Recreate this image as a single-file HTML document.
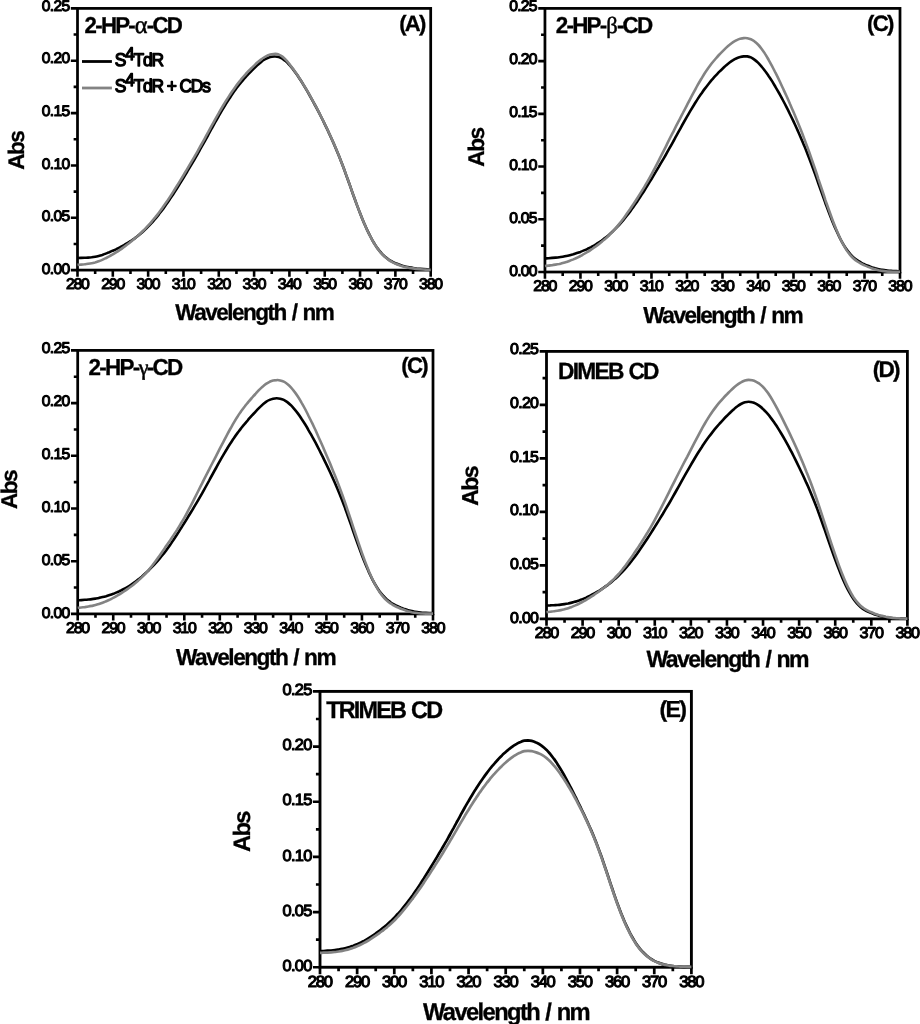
<!DOCTYPE html>
<html lang="en">
<head>
<meta charset="utf-8">
<title>UV absorption spectra of S4TdR with cyclodextrins</title>
<style>
html,body{margin:0;padding:0;background:#fff;}
body{width:920px;height:1024px;overflow:hidden;}
svg{display:block;}
text{font-family:"Liberation Sans",Arial,Helvetica,sans-serif;fill:#000;text-rendering:geometricPrecision;}
.b{font-weight:bold;word-spacing:1.3px;stroke:#000;stroke-width:0.3px;}
.tk text,.lg{font-weight:normal;stroke:#000;stroke-linejoin:round;}
.lg{stroke-width:1.25px;}
.gk{font-family:"Liberation Serif","DejaVu Serif",serif;font-weight:normal;font-style:normal;stroke:#000;stroke-width:0.5px;}
</style>
</head>
<body>
<svg width="920" height="1024" viewBox="0 0 920 1024">
<rect width="920" height="1024" fill="#fff"/>
<g id="pA">
<rect x="77.5" y="8.4" width="353.2" height="261.7" fill="none" stroke="#000" stroke-width="2.74"/>
<path d="M77.5 270.1H70.83M77.5 243.93H73.62M77.5 217.76H70.83M77.5 191.59H73.62M77.5 165.42H70.83M77.5 139.25H73.62M77.5 113.08H70.83M77.5 86.91H73.62M77.5 60.74H70.83M77.5 34.57H73.62M77.5 8.4H70.83M77.5 270.1V276.77M95.16 270.1V273.98M112.82 270.1V276.77M130.48 270.1V273.98M148.14 270.1V276.77M165.8 270.1V273.98M183.46 270.1V276.77M201.12 270.1V273.98M218.78 270.1V276.77M236.44 270.1V273.98M254.1 270.1V276.77M271.76 270.1V273.98M289.42 270.1V276.77M307.08 270.1V273.98M324.74 270.1V276.77M342.4 270.1V273.98M360.06 270.1V276.77M377.72 270.1V273.98M395.38 270.1V276.77M413.04 270.1V273.98M430.7 270.1V276.77" fill="none" stroke="#000" stroke-width="2.59"/>
<path d="M77.5 258.0C78.1 257.9 79.9 257.9 81.0 257.9C82.2 257.9 83.4 257.9 84.6 257.8C85.7 257.8 86.9 257.7 88.1 257.6C89.3 257.5 90.5 257.4 91.6 257.3C92.8 257.1 94.0 256.9 95.2 256.7C96.3 256.5 97.5 256.2 98.7 255.9C99.9 255.6 101.0 255.2 102.2 254.9C103.4 254.5 104.6 254.1 105.8 253.6C106.9 253.2 108.1 252.7 109.3 252.3C110.5 251.8 111.6 251.3 112.8 250.7C114.0 250.2 115.2 249.7 116.4 249.1C117.5 248.5 118.7 248.0 119.9 247.4C121.1 246.8 122.2 246.1 123.4 245.5C124.6 244.8 125.8 244.1 126.9 243.4C128.1 242.7 129.3 242.0 130.5 241.2C131.7 240.4 132.8 239.6 134.0 238.8C135.2 237.9 136.4 237.1 137.5 236.1C138.7 235.2 139.9 234.3 141.1 233.3C142.3 232.2 143.4 231.2 144.6 230.1C145.8 229.0 147.0 227.9 148.1 226.7C149.3 225.5 150.5 224.2 151.7 222.9C152.8 221.6 154.0 220.3 155.2 218.9C156.4 217.5 157.6 216.0 158.7 214.6C159.9 213.1 161.1 211.5 162.3 210.0C163.4 208.4 164.6 206.8 165.8 205.1C167.0 203.4 168.2 201.7 169.3 200.0C170.5 198.2 171.7 196.5 172.9 194.7C174.0 192.9 175.2 191.0 176.4 189.2C177.6 187.3 178.8 185.4 179.9 183.5C181.1 181.6 182.3 179.7 183.5 177.8C184.6 175.8 185.8 173.9 187.0 172.0C188.2 170.0 189.3 168.0 190.5 166.1C191.7 164.1 192.9 162.1 194.1 160.1C195.2 158.0 196.4 156.0 197.6 154.0C198.8 151.9 199.9 149.8 201.1 147.7C202.3 145.6 203.5 143.5 204.7 141.4C205.8 139.2 207.0 137.1 208.2 135.0C209.4 132.8 210.5 130.7 211.7 128.5C212.9 126.4 214.1 124.3 215.2 122.2C216.4 120.0 217.6 118.0 218.8 115.9C220.0 113.9 221.1 111.8 222.3 109.8C223.5 107.9 224.7 105.9 225.8 104.0C227.0 102.1 228.2 100.3 229.4 98.5C230.6 96.7 231.7 94.9 232.9 93.2C234.1 91.5 235.3 89.9 236.4 88.3C237.6 86.7 238.8 85.2 240.0 83.7C241.1 82.2 242.3 80.8 243.5 79.5C244.7 78.1 245.9 76.8 247.0 75.5C248.2 74.2 249.4 73.0 250.6 71.8C251.7 70.6 252.9 69.4 254.1 68.3C255.3 67.1 256.5 66.0 257.6 64.9C258.8 63.9 260.0 62.9 261.2 61.9C262.3 61.0 263.5 60.2 264.7 59.5C265.9 58.8 267.1 58.2 268.2 57.7C269.4 57.3 270.6 56.9 271.8 56.7C272.9 56.5 274.1 56.4 275.3 56.5C276.5 56.5 277.6 56.7 278.8 57.0C280.0 57.4 281.2 57.9 282.4 58.6C283.5 59.4 284.7 60.3 285.9 61.3C287.1 62.4 288.2 63.6 289.4 64.9C290.6 66.2 291.8 67.7 293.0 69.2C294.1 70.7 295.3 72.3 296.5 74.0C297.7 75.7 298.8 77.5 300.0 79.3C301.2 81.1 302.4 83.0 303.5 84.9C304.7 86.9 305.9 88.9 307.1 90.9C308.3 92.9 309.4 95.0 310.6 97.1C311.8 99.2 313.0 101.3 314.1 103.5C315.3 105.6 316.5 107.8 317.7 110.1C318.9 112.3 320.0 114.6 321.2 117.0C322.4 119.3 323.6 121.7 324.7 124.1C325.9 126.5 327.1 128.9 328.3 131.5C329.4 134.0 330.6 136.5 331.8 139.2C333.0 141.8 334.2 144.5 335.3 147.2C336.5 150.0 337.7 152.8 338.9 155.8C340.0 158.7 341.2 161.7 342.4 164.8C343.6 167.9 344.8 171.1 345.9 174.3C347.1 177.6 348.3 180.9 349.5 184.2C350.6 187.5 351.8 190.9 353.0 194.2C354.2 197.4 355.4 200.7 356.5 203.9C357.7 207.1 358.9 210.3 360.1 213.3C361.2 216.3 362.4 219.2 363.6 222.0C364.8 224.7 365.9 227.4 367.1 229.9C368.3 232.4 369.5 234.8 370.7 237.0C371.8 239.3 373.0 241.4 374.2 243.3C375.4 245.2 376.5 247.0 377.7 248.6C378.9 250.3 380.1 251.7 381.3 253.0C382.4 254.3 383.6 255.4 384.8 256.5C386.0 257.5 387.1 258.4 388.3 259.3C389.5 260.1 390.7 260.8 391.8 261.4C393.0 262.1 394.2 262.7 395.4 263.2C396.6 263.7 397.7 264.2 398.9 264.6C400.1 265.0 401.3 265.4 402.4 265.8C403.6 266.1 404.8 266.4 406.0 266.7C407.2 267.0 408.3 267.2 409.5 267.4C410.7 267.6 411.9 267.8 413.0 268.0C414.2 268.2 415.4 268.3 416.6 268.5C417.7 268.6 418.9 268.7 420.1 268.8C421.3 268.9 422.5 269.0 423.6 269.1C424.8 269.2 426.0 269.3 427.2 269.4C428.3 269.4 430.1 269.5 430.7 269.6" fill="none" stroke="#000" stroke-width="2.59" stroke-linejoin="round"/>
<path d="M77.5 264.9C78.1 264.8 79.9 264.7 81.0 264.6C82.2 264.5 83.4 264.4 84.6 264.3C85.7 264.1 86.9 264.0 88.1 263.8C89.3 263.6 90.5 263.4 91.6 263.2C92.8 263.0 94.0 262.7 95.2 262.4C96.3 262.0 97.5 261.7 98.7 261.2C99.9 260.8 101.0 260.4 102.2 259.9C103.4 259.4 104.6 258.8 105.8 258.2C106.9 257.7 108.1 257.0 109.3 256.4C110.5 255.8 111.6 255.1 112.8 254.4C114.0 253.7 115.2 253.0 116.4 252.2C117.5 251.5 118.7 250.7 119.9 249.9C121.1 249.1 122.2 248.3 123.4 247.4C124.6 246.6 125.8 245.7 126.9 244.8C128.1 243.9 129.3 243.0 130.5 242.0C131.7 241.1 132.8 240.1 134.0 239.1C135.2 238.1 136.4 237.1 137.5 236.1C138.7 235.0 139.9 233.9 141.1 232.8C142.3 231.7 143.4 230.5 144.6 229.3C145.8 228.1 147.0 226.9 148.1 225.6C149.3 224.3 150.5 223.0 151.7 221.6C152.8 220.3 154.0 218.8 155.2 217.4C156.4 215.9 157.6 214.4 158.7 212.9C159.9 211.3 161.1 209.7 162.3 208.1C163.4 206.5 164.6 204.8 165.8 203.1C167.0 201.4 168.2 199.6 169.3 197.9C170.5 196.1 171.7 194.3 172.9 192.4C174.0 190.6 175.2 188.7 176.4 186.8C177.6 184.9 178.8 183.0 179.9 181.1C181.1 179.2 182.3 177.2 183.5 175.3C184.6 173.3 185.8 171.4 187.0 169.4C188.2 167.4 189.3 165.4 190.5 163.4C191.7 161.4 192.9 159.4 194.1 157.4C195.2 155.4 196.4 153.3 197.6 151.3C198.8 149.2 199.9 147.1 201.1 145.0C202.3 142.9 203.5 140.8 204.7 138.6C205.8 136.5 207.0 134.3 208.2 132.2C209.4 130.0 210.5 127.9 211.7 125.7C212.9 123.6 214.1 121.4 215.2 119.3C216.4 117.2 217.6 115.1 218.8 113.1C220.0 111.0 221.1 109.0 222.3 107.0C223.5 105.0 224.7 103.1 225.8 101.2C227.0 99.3 228.2 97.4 229.4 95.6C230.6 93.8 231.7 92.1 232.9 90.4C234.1 88.7 235.3 87.0 236.4 85.4C237.6 83.9 238.8 82.3 240.0 80.9C241.1 79.4 242.3 78.0 243.5 76.7C244.7 75.3 245.9 74.0 247.0 72.7C248.2 71.4 249.4 70.2 250.6 69.0C251.7 67.8 252.9 66.7 254.1 65.6C255.3 64.4 256.5 63.3 257.6 62.3C258.8 61.3 260.0 60.3 261.2 59.4C262.3 58.5 263.5 57.7 264.7 57.0C265.9 56.3 267.1 55.7 268.2 55.2C269.4 54.8 270.6 54.4 271.8 54.2C272.9 54.0 274.1 53.9 275.3 53.9C276.5 54.0 277.6 54.2 278.8 54.6C280.0 55.1 281.2 55.7 282.4 56.6C283.5 57.4 284.7 58.6 285.9 59.9C287.1 61.1 288.2 62.6 289.4 64.1C290.6 65.6 291.8 67.2 293.0 68.8C294.1 70.4 295.3 72.1 296.5 73.8C297.7 75.5 298.8 77.3 300.0 79.1C301.2 81.0 302.4 82.8 303.5 84.8C304.7 86.7 305.9 88.7 307.1 90.7C308.3 92.7 309.4 94.7 310.6 96.8C311.8 98.9 313.0 101.1 314.1 103.3C315.3 105.4 316.5 107.7 317.7 109.9C318.9 112.2 320.0 114.5 321.2 116.8C322.4 119.2 323.6 121.5 324.7 124.0C325.9 126.4 327.1 128.8 328.3 131.4C329.4 133.9 330.6 136.4 331.8 139.1C333.0 141.7 334.2 144.4 335.3 147.1C336.5 149.9 337.7 152.7 338.9 155.7C340.0 158.6 341.2 161.6 342.4 164.7C343.6 167.8 344.8 171.0 345.9 174.2C347.1 177.5 348.3 180.8 349.5 184.1C350.6 187.4 351.8 190.8 353.0 194.1C354.2 197.4 355.4 200.7 356.5 203.9C357.7 207.1 358.9 210.2 360.1 213.3C361.2 216.3 362.4 219.2 363.6 222.0C364.8 224.8 365.9 227.4 367.1 230.0C368.3 232.5 369.5 234.9 370.7 237.2C371.8 239.4 373.0 241.5 374.2 243.5C375.4 245.4 376.5 247.2 377.7 248.8C378.9 250.5 380.1 251.9 381.3 253.3C382.4 254.6 383.6 255.7 384.8 256.8C386.0 257.9 387.1 258.8 388.3 259.6C389.5 260.5 390.7 261.2 391.8 261.8C393.0 262.5 394.2 263.1 395.4 263.6C396.6 264.1 397.7 264.6 398.9 265.0C400.1 265.5 401.3 265.9 402.4 266.2C403.6 266.6 404.8 266.9 406.0 267.1C407.2 267.4 408.3 267.6 409.5 267.9C410.7 268.1 411.9 268.3 413.0 268.4C414.2 268.6 415.4 268.7 416.6 268.9C417.7 269.0 418.9 269.1 420.1 269.2C421.3 269.3 422.5 269.4 423.6 269.5C424.8 269.6 426.0 269.6 427.2 269.7C428.3 269.8 430.1 269.9 430.7 269.9" fill="none" stroke="#838383" stroke-width="2.59" stroke-linejoin="round"/>
<g class="tk" stroke-width="1.09">
<text transform="translate(70.14 274.08) scale(1 0.98)" font-size="15.62" letter-spacing="-0.7" text-anchor="end" x="-0.7">0.00</text>
<text transform="translate(70.14 221.38) scale(1 0.98)" font-size="15.62" letter-spacing="-0.7" text-anchor="end" x="-0.7">0.05</text>
<text transform="translate(70.14 168.68) scale(1 0.98)" font-size="15.62" letter-spacing="-0.7" text-anchor="end" x="-0.7">0.10</text>
<text transform="translate(70.14 115.99) scale(1 0.98)" font-size="15.62" letter-spacing="-0.7" text-anchor="end" x="-0.7">0.15</text>
<text transform="translate(70.14 63.29) scale(1 0.98)" font-size="15.62" letter-spacing="-0.7" text-anchor="end" x="-0.7">0.20</text>
<text transform="translate(70.14 10.59) scale(1 0.98)" font-size="15.62" letter-spacing="-0.7" text-anchor="end" x="-0.7">0.25</text>
<text transform="translate(77.9 289.2) scale(1 0.97)" font-size="15.82" letter-spacing="-1.19" text-anchor="middle" x="-0.6">280</text>
<text transform="translate(113.22 289.2) scale(1 0.97)" font-size="15.82" letter-spacing="-1.19" text-anchor="middle" x="-0.6">290</text>
<text transform="translate(148.54 289.2) scale(1 0.97)" font-size="15.82" letter-spacing="-1.19" text-anchor="middle" x="-0.6">300</text>
<text transform="translate(183.86 289.2) scale(1 0.97)" font-size="15.82" letter-spacing="-1.19" text-anchor="middle" x="-0.6">310</text>
<text transform="translate(219.18 289.2) scale(1 0.97)" font-size="15.82" letter-spacing="-1.19" text-anchor="middle" x="-0.6">320</text>
<text transform="translate(254.5 289.2) scale(1 0.97)" font-size="15.82" letter-spacing="-1.19" text-anchor="middle" x="-0.6">330</text>
<text transform="translate(289.82 289.2) scale(1 0.97)" font-size="15.82" letter-spacing="-1.19" text-anchor="middle" x="-0.6">340</text>
<text transform="translate(325.14 289.2) scale(1 0.97)" font-size="15.82" letter-spacing="-1.19" text-anchor="middle" x="-0.6">350</text>
<text transform="translate(360.46 289.2) scale(1 0.97)" font-size="15.82" letter-spacing="-1.19" text-anchor="middle" x="-0.6">360</text>
<text transform="translate(395.78 289.2) scale(1 0.97)" font-size="15.82" letter-spacing="-1.19" text-anchor="middle" x="-0.6">370</text>
<text transform="translate(431.1 289.2) scale(1 0.97)" font-size="15.82" letter-spacing="-1.19" text-anchor="middle" x="-0.6">380</text>
</g>
<text class="b" transform="translate(255.09 319.65) scale(1 1.02)" font-size="22.58" letter-spacing="-1.54" text-anchor="middle" x="-0.77">Wavelength / nm</text>
<text class="b" transform="translate(24.17 150) rotate(-90)" font-size="22.58" letter-spacing="-1.59" text-anchor="middle" x="-0.8">Abs</text>
<text class="b" transform="translate(84.56 33.27) scale(1 1.03)" font-size="22.29" letter-spacing="-1.74">2-HP-<tspan class="gk" font-size="24.38" dx="0.7" dy="0.2">α</tspan><tspan dx="0.99" dy="-0.2">-CD</tspan></text>
<text class="b" transform="translate(426.42 30.59)" font-size="22.09" letter-spacing="-1.69" text-anchor="end" x="-1.69">(A)</text>
<path d="M82 61.5H111.9" stroke="#000" stroke-width="2.79"/>
<text class="lg" transform="translate(114.8 65.7) scale(1 1.05)" font-size="17.41" letter-spacing="-1.14">S<tspan dy="-5.87" dx="-0.3">4</tspan><tspan dy="5.87">TdR</tspan></text>
<path d="M82 88H111.9" stroke="#838383" stroke-width="2.79"/>
<text class="lg" transform="translate(114.8 92) scale(1 1.05)" font-size="17.41" letter-spacing="-1.14">S<tspan dy="-5.87" dx="-0.3">4</tspan><tspan dy="5.87">TdR + CDs</tspan></text>
</g>
<g id="pB">
<rect x="544.95" y="8.4" width="355.05" height="263.6" fill="none" stroke="#000" stroke-width="2.75"/>
<path d="M544.95 272H538.25M544.95 245.64H541.05M544.95 219.28H538.25M544.95 192.92H541.05M544.95 166.56H538.25M544.95 140.2H541.05M544.95 113.84H538.25M544.95 87.48H541.05M544.95 61.12H538.25M544.95 34.76H541.05M544.95 8.4H538.25M544.95 272V278.7M562.7 272V275.9M580.46 272V278.7M598.21 272V275.9M615.96 272V278.7M633.71 272V275.9M651.47 272V278.7M669.22 272V275.9M686.97 272V278.7M704.72 272V275.9M722.48 272V278.7M740.23 272V275.9M757.98 272V278.7M775.73 272V275.9M793.49 272V278.7M811.24 272V275.9M828.99 272V278.7M846.74 272V275.9M864.5 272V278.7M882.25 272V275.9M900 272V278.7" fill="none" stroke="#000" stroke-width="2.6"/>
<path d="M545.0 258.4C545.5 258.4 547.3 258.3 548.5 258.2C549.7 258.1 550.9 258.0 552.1 257.9C553.2 257.8 554.4 257.7 555.6 257.6C556.8 257.5 558.0 257.4 559.2 257.2C560.3 257.1 561.5 256.9 562.7 256.7C563.9 256.5 565.1 256.3 566.3 256.0C567.4 255.8 568.6 255.5 569.8 255.2C571.0 254.9 572.2 254.6 573.4 254.3C574.5 253.9 575.7 253.5 576.9 253.1C578.1 252.7 579.3 252.3 580.5 251.9C581.6 251.4 582.8 250.9 584.0 250.4C585.2 249.9 586.4 249.4 587.6 248.8C588.7 248.3 589.9 247.7 591.1 247.1C592.3 246.4 593.5 245.8 594.7 245.1C595.8 244.4 597.0 243.7 598.2 242.9C599.4 242.1 600.6 241.3 601.8 240.5C602.9 239.6 604.1 238.8 605.3 237.8C606.5 236.9 607.7 235.9 608.9 234.9C610.0 233.9 611.2 232.8 612.4 231.7C613.6 230.6 614.8 229.5 616.0 228.2C617.1 227.0 618.3 225.8 619.5 224.5C620.7 223.2 621.9 221.8 623.1 220.4C624.2 219.0 625.4 217.5 626.6 216.0C627.8 214.5 629.0 213.0 630.2 211.4C631.3 209.8 632.5 208.2 633.7 206.5C634.9 204.8 636.1 203.1 637.3 201.4C638.4 199.6 639.6 197.8 640.8 196.0C642.0 194.2 643.2 192.3 644.4 190.5C645.5 188.6 646.7 186.7 647.9 184.8C649.1 182.9 650.3 180.9 651.5 179.0C652.6 177.1 653.8 175.1 655.0 173.1C656.2 171.2 657.4 169.2 658.6 167.2C659.7 165.2 660.9 163.2 662.1 161.2C663.3 159.1 664.5 157.1 665.7 155.0C666.9 152.9 668.0 150.9 669.2 148.7C670.4 146.6 671.6 144.5 672.8 142.3C674.0 140.2 675.1 138.0 676.3 135.9C677.5 133.7 678.7 131.5 679.9 129.4C681.1 127.2 682.2 125.1 683.4 123.0C684.6 120.9 685.8 118.8 687.0 116.7C688.2 114.6 689.3 112.6 690.5 110.6C691.7 108.6 692.9 106.6 694.1 104.7C695.3 102.8 696.4 100.9 697.6 99.1C698.8 97.3 700.0 95.5 701.2 93.8C702.4 92.1 703.5 90.5 704.7 88.9C705.9 87.3 707.1 85.7 708.3 84.2C709.5 82.7 710.6 81.3 711.8 79.9C713.0 78.6 714.2 77.2 715.4 75.9C716.6 74.7 717.7 73.4 718.9 72.2C720.1 71.0 721.3 69.8 722.5 68.7C723.7 67.6 724.8 66.5 726.0 65.4C727.2 64.4 728.4 63.4 729.6 62.5C730.8 61.6 731.9 60.8 733.1 60.1C734.3 59.3 735.5 58.7 736.7 58.2C737.9 57.7 739.0 57.3 740.2 57.0C741.4 56.7 742.6 56.5 743.8 56.4C745.0 56.3 746.1 56.3 747.3 56.4C748.5 56.6 749.7 56.9 750.9 57.4C752.1 58.0 753.2 58.7 754.4 59.6C755.6 60.5 756.8 61.5 758.0 62.7C759.2 63.9 760.3 65.2 761.5 66.5C762.7 67.9 763.9 69.4 765.1 71.0C766.3 72.5 767.4 74.2 768.6 76.0C769.8 77.7 771.0 79.5 772.2 81.4C773.4 83.3 774.5 85.3 775.7 87.3C776.9 89.3 778.1 91.4 779.3 93.5C780.5 95.6 781.6 97.8 782.8 100.0C784.0 102.2 785.2 104.5 786.4 106.9C787.6 109.2 788.8 111.6 789.9 114.0C791.1 116.4 792.3 118.9 793.5 121.4C794.7 124.0 795.9 126.5 797.0 129.1C798.2 131.8 799.4 134.4 800.6 137.2C801.8 139.9 803.0 142.7 804.1 145.6C805.3 148.4 806.5 151.4 807.7 154.4C808.9 157.4 810.1 160.5 811.2 163.6C812.4 166.8 813.6 170.0 814.8 173.3C816.0 176.6 817.2 179.9 818.3 183.3C819.5 186.6 820.7 190.0 821.9 193.3C823.1 196.6 824.3 200.0 825.4 203.2C826.6 206.4 827.8 209.7 829.0 212.7C830.2 215.8 831.4 218.8 832.5 221.7C833.7 224.6 834.9 227.4 836.1 230.0C837.3 232.6 838.5 235.2 839.6 237.5C840.8 239.9 842.0 242.1 843.2 244.1C844.4 246.1 845.6 248.0 846.7 249.6C847.9 251.3 849.1 252.8 850.3 254.1C851.5 255.4 852.7 256.6 853.8 257.6C855.0 258.7 856.2 259.6 857.4 260.4C858.6 261.2 859.8 261.9 860.9 262.5C862.1 263.2 863.3 263.8 864.5 264.3C865.7 264.9 866.9 265.4 868.0 265.8C869.2 266.3 870.4 266.7 871.6 267.2C872.8 267.6 874.0 267.9 875.1 268.3C876.3 268.6 877.5 268.9 878.7 269.2C879.9 269.5 881.1 269.7 882.2 269.9C883.4 270.1 884.6 270.3 885.8 270.4C887.0 270.6 888.2 270.7 889.3 270.8C890.5 270.9 891.7 270.9 892.9 271.0C894.1 271.1 895.3 271.1 896.4 271.1C897.6 271.2 899.4 271.2 900.0 271.3" fill="none" stroke="#000" stroke-width="2.6" stroke-linejoin="round"/>
<path d="M545.0 266.0C545.5 265.9 547.3 265.7 548.5 265.6C549.7 265.5 550.9 265.3 552.1 265.2C553.2 265.0 554.4 264.8 555.6 264.6C556.8 264.4 558.0 264.2 559.2 264.0C560.3 263.7 561.5 263.5 562.7 263.1C563.9 262.8 565.1 262.5 566.3 262.1C567.4 261.7 568.6 261.3 569.8 260.8C571.0 260.4 572.2 259.9 573.4 259.4C574.5 258.9 575.7 258.3 576.9 257.8C578.1 257.2 579.3 256.6 580.5 256.0C581.6 255.3 582.8 254.7 584.0 254.0C585.2 253.3 586.4 252.6 587.6 251.9C588.7 251.2 589.9 250.4 591.1 249.6C592.3 248.9 593.5 248.0 594.7 247.2C595.8 246.4 597.0 245.5 598.2 244.6C599.4 243.7 600.6 242.8 601.8 241.8C602.9 240.8 604.1 239.8 605.3 238.7C606.5 237.7 607.7 236.6 608.9 235.5C610.0 234.3 611.2 233.1 612.4 231.9C613.6 230.6 614.8 229.3 616.0 227.9C617.1 226.6 618.3 225.1 619.5 223.6C620.7 222.1 621.9 220.6 623.1 219.0C624.2 217.4 625.4 215.8 626.6 214.1C627.8 212.4 629.0 210.7 630.2 209.0C631.3 207.2 632.5 205.5 633.7 203.7C634.9 201.9 636.1 200.1 637.3 198.2C638.4 196.4 639.6 194.5 640.8 192.6C642.0 190.7 643.2 188.8 644.4 186.8C645.5 184.9 646.7 182.9 647.9 180.8C649.1 178.7 650.3 176.6 651.5 174.5C652.6 172.3 653.8 170.1 655.0 167.8C656.2 165.6 657.4 163.3 658.6 160.9C659.7 158.6 660.9 156.2 662.1 153.9C663.3 151.5 664.5 149.1 665.7 146.8C666.9 144.4 668.0 142.0 669.2 139.7C670.4 137.3 671.6 135.0 672.8 132.7C674.0 130.3 675.1 128.0 676.3 125.7C677.5 123.4 678.7 121.1 679.9 118.9C681.1 116.6 682.2 114.3 683.4 112.0C684.6 109.7 685.8 107.5 687.0 105.2C688.2 102.9 689.3 100.6 690.5 98.4C691.7 96.1 692.9 93.9 694.1 91.7C695.3 89.5 696.4 87.3 697.6 85.2C698.8 83.0 700.0 81.0 701.2 79.0C702.4 77.0 703.5 75.1 704.7 73.2C705.9 71.4 707.1 69.7 708.3 68.0C709.5 66.4 710.6 64.8 711.8 63.3C713.0 61.8 714.2 60.4 715.4 59.0C716.6 57.6 717.7 56.3 718.9 55.0C720.1 53.7 721.3 52.5 722.5 51.3C723.7 50.1 724.8 49.0 726.0 47.9C727.2 46.8 728.4 45.7 729.6 44.8C730.8 43.8 731.9 42.9 733.1 42.1C734.3 41.4 735.5 40.7 736.7 40.1C737.9 39.6 739.0 39.1 740.2 38.8C741.4 38.5 742.6 38.2 743.8 38.1C745.0 38.0 746.1 38.0 747.3 38.2C748.5 38.4 749.7 38.7 750.9 39.2C752.1 39.7 753.2 40.4 754.4 41.3C755.6 42.1 756.8 43.2 758.0 44.5C759.2 45.7 760.3 47.1 761.5 48.7C762.7 50.3 763.9 52.0 765.1 53.9C766.3 55.7 767.4 57.7 768.6 59.8C769.8 61.9 771.0 64.1 772.2 66.3C773.4 68.5 774.5 70.9 775.7 73.2C776.9 75.6 778.1 78.0 779.3 80.5C780.5 83.0 781.6 85.5 782.8 88.0C784.0 90.6 785.2 93.1 786.4 95.8C787.6 98.4 788.8 101.1 789.9 103.8C791.1 106.5 792.3 109.3 793.5 112.0C794.7 114.8 795.9 117.7 797.0 120.5C798.2 123.4 799.4 126.3 800.6 129.3C801.8 132.3 803.0 135.3 804.1 138.4C805.3 141.5 806.5 144.7 807.7 147.9C808.9 151.1 810.1 154.4 811.2 157.8C812.4 161.2 813.6 164.7 814.8 168.2C816.0 171.7 817.2 175.2 818.3 178.8C819.5 182.3 820.7 185.9 821.9 189.5C823.1 193.0 824.3 196.6 825.4 200.1C826.6 203.5 827.8 207.0 829.0 210.3C830.2 213.6 831.4 216.9 832.5 220.0C833.7 223.2 834.9 226.2 836.1 229.1C837.3 231.9 838.5 234.7 839.6 237.2C840.8 239.8 842.0 242.2 843.2 244.4C844.4 246.6 845.6 248.6 846.7 250.4C847.9 252.2 849.1 253.7 850.3 255.1C851.5 256.5 852.7 257.7 853.8 258.7C855.0 259.8 856.2 260.7 857.4 261.5C858.6 262.3 859.8 263.0 860.9 263.6C862.1 264.3 863.3 264.8 864.5 265.4C865.7 265.9 866.9 266.4 868.0 266.9C869.2 267.4 870.4 267.8 871.6 268.2C872.8 268.6 874.0 269.0 875.1 269.3C876.3 269.7 877.5 270.0 878.7 270.3C879.9 270.5 881.1 270.8 882.2 270.9C883.4 271.1 884.6 271.3 885.8 271.4C887.0 271.5 888.2 271.6 889.3 271.6C890.5 271.7 891.7 271.7 892.9 271.7C894.1 271.8 895.3 271.7 896.4 271.7C897.6 271.7 899.4 271.7 900.0 271.7" fill="none" stroke="#838383" stroke-width="2.6" stroke-linejoin="round"/>
<g class="tk" stroke-width="1.1">
<text transform="translate(537.55 275.8) scale(1 0.98)" font-size="15.7" letter-spacing="-0.7" text-anchor="end" x="-0.7">0.00</text>
<text transform="translate(537.55 222.92) scale(1 0.98)" font-size="15.7" letter-spacing="-0.7" text-anchor="end" x="-0.7">0.05</text>
<text transform="translate(537.55 170.04) scale(1 0.98)" font-size="15.7" letter-spacing="-0.7" text-anchor="end" x="-0.7">0.10</text>
<text transform="translate(537.55 117.16) scale(1 0.98)" font-size="15.7" letter-spacing="-0.7" text-anchor="end" x="-0.7">0.15</text>
<text transform="translate(537.55 64.28) scale(1 0.98)" font-size="15.7" letter-spacing="-0.7" text-anchor="end" x="-0.7">0.20</text>
<text transform="translate(537.55 11.4) scale(1 0.98)" font-size="15.7" letter-spacing="-0.7" text-anchor="end" x="-0.7">0.25</text>
<text transform="translate(545.35 291.2) scale(1 0.97)" font-size="15.9" letter-spacing="-1.2" text-anchor="middle" x="-0.6">280</text>
<text transform="translate(580.86 291.2) scale(1 0.97)" font-size="15.9" letter-spacing="-1.2" text-anchor="middle" x="-0.6">290</text>
<text transform="translate(616.36 291.2) scale(1 0.97)" font-size="15.9" letter-spacing="-1.2" text-anchor="middle" x="-0.6">300</text>
<text transform="translate(651.87 291.2) scale(1 0.97)" font-size="15.9" letter-spacing="-1.2" text-anchor="middle" x="-0.6">310</text>
<text transform="translate(687.37 291.2) scale(1 0.97)" font-size="15.9" letter-spacing="-1.2" text-anchor="middle" x="-0.6">320</text>
<text transform="translate(722.88 291.2) scale(1 0.97)" font-size="15.9" letter-spacing="-1.2" text-anchor="middle" x="-0.6">330</text>
<text transform="translate(758.38 291.2) scale(1 0.97)" font-size="15.9" letter-spacing="-1.2" text-anchor="middle" x="-0.6">340</text>
<text transform="translate(793.89 291.2) scale(1 0.97)" font-size="15.9" letter-spacing="-1.2" text-anchor="middle" x="-0.6">350</text>
<text transform="translate(829.39 291.2) scale(1 0.97)" font-size="15.9" letter-spacing="-1.2" text-anchor="middle" x="-0.6">360</text>
<text transform="translate(864.9 291.2) scale(1 0.97)" font-size="15.9" letter-spacing="-1.2" text-anchor="middle" x="-0.6">370</text>
<text transform="translate(900.4 291.2) scale(1 0.97)" font-size="15.9" letter-spacing="-1.2" text-anchor="middle" x="-0.6">380</text>
</g>
<text class="b" transform="translate(723.48 323.21) scale(1 1.02)" font-size="22.7" letter-spacing="-1.55" text-anchor="middle" x="-0.78">Wavelength / nm</text>
<text class="b" transform="translate(483.74 146.8) rotate(-90)" font-size="22.7" letter-spacing="-1.6" text-anchor="middle" x="-0.8">Abs</text>
<text class="b" transform="translate(555.75 33.3) scale(1 1.03)" font-size="22.4" letter-spacing="-1.75">2-HP-<tspan class="gk" font-size="22.5" dx="0.7" dy="0">β</tspan><tspan dx="1" dy="-0">-CD</tspan></text>
<text class="b" transform="translate(894.4 30.7)" font-size="22.2" letter-spacing="-1.7" text-anchor="end" x="-1.7">(C)</text>
</g>
<g id="pC">
<rect x="77.7" y="350.4" width="355.3" height="263.5" fill="none" stroke="#000" stroke-width="2.75"/>
<path d="M77.7 613.9H70.99M77.7 587.55H73.8M77.7 561.2H70.99M77.7 534.85H73.8M77.7 508.5H70.99M77.7 482.15H73.8M77.7 455.8H70.99M77.7 429.45H73.8M77.7 403.1H70.99M77.7 376.75H73.8M77.7 350.4H70.99M77.7 613.9V620.61M95.47 613.9V617.8M113.23 613.9V620.61M131 613.9V617.8M148.76 613.9V620.61M166.53 613.9V617.8M184.29 613.9V620.61M202.06 613.9V617.8M219.82 613.9V620.61M237.59 613.9V617.8M255.35 613.9V620.61M273.12 613.9V617.8M290.88 613.9V620.61M308.65 613.9V617.8M326.41 613.9V620.61M344.18 613.9V617.8M361.94 613.9V620.61M379.7 613.9V617.8M397.47 613.9V620.61M415.23 613.9V617.8M433 613.9V620.61" fill="none" stroke="#000" stroke-width="2.6"/>
<path d="M77.7 600.3C78.3 600.3 80.1 600.2 81.3 600.1C82.4 600.0 83.6 599.9 84.8 599.8C86.0 599.8 87.2 599.7 88.4 599.5C89.5 599.4 90.7 599.3 91.9 599.1C93.1 599.0 94.3 598.8 95.5 598.6C96.6 598.4 97.8 598.2 99.0 597.9C100.2 597.7 101.4 597.4 102.6 597.1C103.8 596.8 104.9 596.5 106.1 596.2C107.3 595.8 108.5 595.4 109.7 595.0C110.9 594.6 112.0 594.2 113.2 593.8C114.4 593.3 115.6 592.9 116.8 592.4C118.0 591.9 119.2 591.3 120.3 590.8C121.5 590.2 122.7 589.6 123.9 589.0C125.1 588.4 126.3 587.7 127.4 587.0C128.6 586.3 129.8 585.6 131.0 584.8C132.2 584.0 133.4 583.2 134.5 582.3C135.7 581.5 136.9 580.6 138.1 579.6C139.3 578.7 140.5 577.7 141.7 576.7C142.8 575.7 144.0 574.6 145.2 573.5C146.4 572.4 147.6 571.3 148.8 570.2C149.9 569.0 151.1 567.8 152.3 566.6C153.5 565.4 154.7 564.1 155.9 562.8C157.1 561.5 158.2 560.2 159.4 558.8C160.6 557.4 161.8 556.0 163.0 554.5C164.2 553.0 165.3 551.5 166.5 549.9C167.7 548.3 168.9 546.7 170.1 545.0C171.3 543.3 172.4 541.5 173.6 539.8C174.8 538.0 176.0 536.2 177.2 534.3C178.4 532.5 179.6 530.6 180.7 528.7C181.9 526.8 183.1 524.9 184.3 523.0C185.5 521.1 186.7 519.2 187.8 517.3C189.0 515.4 190.2 513.5 191.4 511.5C192.6 509.6 193.8 507.6 194.9 505.6C196.1 503.7 197.3 501.7 198.5 499.6C199.7 497.6 200.9 495.5 202.1 493.4C203.2 491.3 204.4 489.2 205.6 487.0C206.8 484.9 208.0 482.7 209.2 480.5C210.3 478.3 211.5 476.1 212.7 474.0C213.9 471.8 215.1 469.6 216.3 467.5C217.5 465.3 218.6 463.2 219.8 461.1C221.0 459.0 222.2 456.9 223.4 454.9C224.6 452.9 225.7 450.9 226.9 449.0C228.1 447.0 229.3 445.1 230.5 443.3C231.7 441.5 232.8 439.7 234.0 438.0C235.2 436.2 236.4 434.5 237.6 432.9C238.8 431.3 240.0 429.8 241.1 428.2C242.3 426.7 243.5 425.3 244.7 423.9C245.9 422.4 247.1 421.1 248.2 419.7C249.4 418.3 250.6 417.0 251.8 415.7C253.0 414.4 254.2 413.1 255.4 411.8C256.5 410.6 257.7 409.3 258.9 408.1C260.1 406.9 261.3 405.7 262.5 404.7C263.6 403.6 264.8 402.6 266.0 401.8C267.2 401.0 268.4 400.4 269.6 399.9C270.7 399.3 271.9 399.0 273.1 398.7C274.3 398.4 275.5 398.3 276.7 398.3C277.9 398.3 279.0 398.4 280.2 398.7C281.4 399.0 282.6 399.4 283.8 399.9C285.0 400.5 286.1 401.3 287.3 402.1C288.5 403.0 289.7 404.1 290.9 405.2C292.1 406.4 293.2 407.7 294.4 409.1C295.6 410.5 296.8 412.0 298.0 413.6C299.2 415.2 300.4 416.9 301.5 418.7C302.7 420.5 303.9 422.4 305.1 424.3C306.3 426.2 307.5 428.2 308.6 430.3C309.8 432.3 311.0 434.5 312.2 436.6C313.4 438.8 314.6 441.0 315.8 443.2C316.9 445.4 318.1 447.7 319.3 450.0C320.5 452.4 321.7 454.7 322.9 457.1C324.0 459.5 325.2 462.0 326.4 464.4C327.6 466.9 328.8 469.4 330.0 472.0C331.1 474.5 332.3 477.1 333.5 479.8C334.7 482.4 335.9 485.2 337.1 488.0C338.3 490.8 339.4 493.6 340.6 496.6C341.8 499.6 343.0 502.6 344.2 505.8C345.4 508.9 346.5 512.2 347.7 515.5C348.9 518.8 350.1 522.2 351.3 525.6C352.5 529.0 353.6 532.4 354.8 535.8C356.0 539.2 357.2 542.5 358.4 545.8C359.6 549.1 360.8 552.3 361.9 555.4C363.1 558.5 364.3 561.5 365.5 564.3C366.7 567.2 367.9 569.9 369.0 572.5C370.2 575.0 371.4 577.5 372.6 579.8C373.8 582.0 375.0 584.2 376.2 586.2C377.3 588.1 378.5 589.9 379.7 591.6C380.9 593.2 382.1 594.6 383.3 595.9C384.4 597.3 385.6 598.4 386.8 599.4C388.0 600.5 389.2 601.4 390.4 602.2C391.5 603.0 392.7 603.7 393.9 604.4C395.1 605.1 396.3 605.6 397.5 606.2C398.7 606.8 399.8 607.3 401.0 607.8C402.2 608.2 403.4 608.7 404.6 609.1C405.8 609.5 406.9 609.9 408.1 610.2C409.3 610.5 410.5 610.8 411.7 611.1C412.9 611.4 414.1 611.6 415.2 611.8C416.4 612.0 417.6 612.2 418.8 612.3C420.0 612.4 421.2 612.6 422.3 612.7C423.5 612.8 424.7 612.8 425.9 612.9C427.1 613.0 428.3 613.0 429.4 613.0C430.6 613.1 432.4 613.1 433.0 613.2" fill="none" stroke="#000" stroke-width="2.6" stroke-linejoin="round"/>
<path d="M77.7 607.9C78.3 607.8 80.1 607.6 81.3 607.5C82.4 607.4 83.6 607.2 84.8 607.1C86.0 606.9 87.2 606.7 88.4 606.5C89.5 606.3 90.7 606.1 91.9 605.9C93.1 605.6 94.3 605.4 95.5 605.0C96.6 604.7 97.8 604.4 99.0 604.0C100.2 603.6 101.4 603.2 102.6 602.7C103.8 602.3 104.9 601.8 106.1 601.3C107.3 600.8 108.5 600.2 109.7 599.7C110.9 599.1 112.0 598.5 113.2 597.9C114.4 597.3 115.6 596.6 116.8 595.9C118.0 595.3 119.2 594.5 120.3 593.8C121.5 593.1 122.7 592.3 123.9 591.5C125.1 590.8 126.3 589.9 127.4 589.1C128.6 588.3 129.8 587.4 131.0 586.5C132.2 585.6 133.4 584.7 134.5 583.7C135.7 582.7 136.9 581.7 138.1 580.7C139.3 579.6 140.5 578.6 141.7 577.4C142.8 576.3 144.0 575.1 145.2 573.8C146.4 572.5 147.6 571.2 148.8 569.8C149.9 568.5 151.1 567.0 152.3 565.5C153.5 564.0 154.7 562.4 155.9 560.8C157.1 559.2 158.2 557.6 159.4 555.9C160.6 554.2 161.8 552.5 163.0 550.8C164.2 549.1 165.3 547.3 166.5 545.6C167.7 543.9 168.9 542.1 170.1 540.4C171.3 538.6 172.4 536.9 173.6 535.1C174.8 533.3 176.0 531.4 177.2 529.6C178.4 527.7 179.6 525.8 180.7 523.8C181.9 521.9 183.1 519.9 184.3 517.8C185.5 515.7 186.7 513.5 187.8 511.3C189.0 509.1 190.2 506.9 191.4 504.6C192.6 502.3 193.8 499.9 194.9 497.6C196.1 495.3 197.3 492.9 198.5 490.5C199.7 488.1 200.9 485.8 202.1 483.4C203.2 481.1 204.4 478.7 205.6 476.4C206.8 474.1 208.0 471.7 209.2 469.4C210.3 467.1 211.5 464.8 212.7 462.5C213.9 460.2 215.1 457.9 216.3 455.6C217.5 453.3 218.6 451.0 219.8 448.7C221.0 446.4 222.2 444.1 223.4 441.9C224.6 439.6 225.7 437.3 226.9 435.1C228.1 432.8 229.3 430.6 230.5 428.5C231.7 426.4 232.8 424.3 234.0 422.3C235.2 420.3 236.4 418.3 237.6 416.5C238.8 414.6 240.0 412.9 241.1 411.2C242.3 409.6 243.5 408.0 244.7 406.5C245.9 404.9 247.1 403.5 248.2 402.1C249.4 400.7 250.6 399.3 251.8 398.0C253.0 396.6 254.2 395.3 255.4 394.0C256.5 392.7 257.7 391.5 258.9 390.2C260.1 389.0 261.3 387.8 262.5 386.8C263.6 385.7 264.8 384.7 266.0 383.9C267.2 383.1 268.4 382.4 269.6 381.8C270.7 381.3 271.9 380.8 273.1 380.5C274.3 380.2 275.5 380.1 276.7 380.1C277.9 380.0 279.0 380.1 280.2 380.4C281.4 380.7 282.6 381.1 283.8 381.7C285.0 382.3 286.1 383.1 287.3 384.0C288.5 384.9 289.7 386.0 290.9 387.3C292.1 388.6 293.2 390.0 294.4 391.6C295.6 393.1 296.8 394.9 298.0 396.7C299.2 398.5 300.4 400.5 301.5 402.6C302.7 404.6 303.9 406.8 305.1 409.0C306.3 411.3 307.5 413.6 308.6 416.0C309.8 418.3 311.0 420.8 312.2 423.2C313.4 425.7 314.6 428.3 315.8 430.8C316.9 433.4 318.1 436.0 319.3 438.7C320.5 441.3 321.7 444.0 322.9 446.7C324.0 449.4 325.2 452.2 326.4 455.0C327.6 457.7 328.8 460.5 330.0 463.3C331.1 466.2 332.3 469.0 333.5 472.0C334.7 474.9 335.9 477.8 337.1 480.9C338.3 483.9 339.4 487.0 340.6 490.2C341.8 493.4 343.0 496.7 344.2 500.1C345.4 503.4 346.5 506.9 347.7 510.5C348.9 514.0 350.1 517.6 351.3 521.2C352.5 524.8 353.6 528.4 354.8 532.0C356.0 535.6 357.2 539.2 358.4 542.7C359.6 546.2 360.8 549.7 361.9 553.0C363.1 556.3 364.3 559.5 365.5 562.6C366.7 565.7 367.9 568.7 369.0 571.5C370.2 574.3 371.4 577.0 372.6 579.5C373.8 582.0 375.0 584.3 376.2 586.5C377.3 588.6 378.5 590.5 379.7 592.3C380.9 594.0 382.1 595.6 383.3 596.9C384.4 598.3 385.6 599.5 386.8 600.5C388.0 601.6 389.2 602.5 390.4 603.3C391.5 604.2 392.7 604.8 393.9 605.5C395.1 606.1 396.3 606.7 397.5 607.3C398.7 607.8 399.8 608.3 401.0 608.8C402.2 609.3 403.4 609.7 404.6 610.1C405.8 610.5 406.9 610.9 408.1 611.3C409.3 611.6 410.5 611.9 411.7 612.2C412.9 612.4 414.1 612.7 415.2 612.8C416.4 613.0 417.6 613.2 418.8 613.3C420.0 613.4 421.2 613.5 422.3 613.5C423.5 613.6 424.7 613.6 425.9 613.6C427.1 613.6 428.3 613.6 429.4 613.6C430.6 613.6 432.4 613.6 433.0 613.6" fill="none" stroke="#838383" stroke-width="2.6" stroke-linejoin="round"/>
<g class="tk" stroke-width="1.1">
<text transform="translate(70.29 617.7) scale(1 0.98)" font-size="15.71" letter-spacing="-0.7" text-anchor="end" x="-0.7">0.00</text>
<text transform="translate(70.29 564.84) scale(1 0.98)" font-size="15.71" letter-spacing="-0.7" text-anchor="end" x="-0.7">0.05</text>
<text transform="translate(70.29 511.98) scale(1 0.98)" font-size="15.71" letter-spacing="-0.7" text-anchor="end" x="-0.7">0.10</text>
<text transform="translate(70.29 459.12) scale(1 0.98)" font-size="15.71" letter-spacing="-0.7" text-anchor="end" x="-0.7">0.15</text>
<text transform="translate(70.29 406.26) scale(1 0.98)" font-size="15.71" letter-spacing="-0.7" text-anchor="end" x="-0.7">0.20</text>
<text transform="translate(70.29 353.4) scale(1 0.98)" font-size="15.71" letter-spacing="-0.7" text-anchor="end" x="-0.7">0.25</text>
<text transform="translate(78.1 633.12) scale(1 0.97)" font-size="15.91" letter-spacing="-1.2" text-anchor="middle" x="-0.6">280</text>
<text transform="translate(113.63 633.12) scale(1 0.97)" font-size="15.91" letter-spacing="-1.2" text-anchor="middle" x="-0.6">290</text>
<text transform="translate(149.16 633.12) scale(1 0.97)" font-size="15.91" letter-spacing="-1.2" text-anchor="middle" x="-0.6">300</text>
<text transform="translate(184.69 633.12) scale(1 0.97)" font-size="15.91" letter-spacing="-1.2" text-anchor="middle" x="-0.6">310</text>
<text transform="translate(220.22 633.12) scale(1 0.97)" font-size="15.91" letter-spacing="-1.2" text-anchor="middle" x="-0.6">320</text>
<text transform="translate(255.75 633.12) scale(1 0.97)" font-size="15.91" letter-spacing="-1.2" text-anchor="middle" x="-0.6">330</text>
<text transform="translate(291.28 633.12) scale(1 0.97)" font-size="15.91" letter-spacing="-1.2" text-anchor="middle" x="-0.6">340</text>
<text transform="translate(326.81 633.12) scale(1 0.97)" font-size="15.91" letter-spacing="-1.2" text-anchor="middle" x="-0.6">350</text>
<text transform="translate(362.34 633.12) scale(1 0.97)" font-size="15.91" letter-spacing="-1.2" text-anchor="middle" x="-0.6">360</text>
<text transform="translate(397.87 633.12) scale(1 0.97)" font-size="15.91" letter-spacing="-1.2" text-anchor="middle" x="-0.6">370</text>
<text transform="translate(433.4 633.12) scale(1 0.97)" font-size="15.91" letter-spacing="-1.2" text-anchor="middle" x="-0.6">380</text>
</g>
<text class="b" transform="translate(256.35 665.14) scale(1 1.02)" font-size="22.72" letter-spacing="-1.55" text-anchor="middle" x="-0.78">Wavelength / nm</text>
<text class="b" transform="translate(16.75 489.16) rotate(-90)" font-size="22.72" letter-spacing="-1.6" text-anchor="middle" x="-0.8">Abs</text>
<text class="b" transform="translate(88.61 375.32) scale(1 1.03)" font-size="22.42" letter-spacing="-1.75">2-HP-<tspan class="gk" font-size="22.02" dx="0.3" dy="0">γ</tspan><tspan dx="0.2" dy="-0">-CD</tspan></text>
<text class="b" transform="translate(428.7 372.72)" font-size="22.22" letter-spacing="-1.7" text-anchor="end" x="-1.7">(C)</text>
</g>
<g id="pD">
<rect x="546.5" y="351.4" width="360.9" height="267.5" fill="none" stroke="#000" stroke-width="2.8"/>
<path d="M546.5 618.9H539.69M546.5 592.15H542.54M546.5 565.4H539.69M546.5 538.65H542.54M546.5 511.9H539.69M546.5 485.15H542.54M546.5 458.4H539.69M546.5 431.65H542.54M546.5 404.9H539.69M546.5 378.15H542.54M546.5 351.4H539.69M546.5 618.9V625.71M564.54 618.9V622.86M582.59 618.9V625.71M600.63 618.9V622.86M618.68 618.9V625.71M636.73 618.9V622.86M654.77 618.9V625.71M672.81 618.9V622.86M690.86 618.9V625.71M708.9 618.9V622.86M726.95 618.9V625.71M745 618.9V622.86M763.04 618.9V625.71M781.09 618.9V622.86M799.13 618.9V625.71M817.17 618.9V622.86M835.22 618.9V625.71M853.26 618.9V622.86M871.31 618.9V625.71M889.36 618.9V622.86M907.4 618.9V625.71" fill="none" stroke="#000" stroke-width="2.64"/>
<path d="M546.5 605.5C547.1 605.5 548.9 605.4 550.1 605.4C551.3 605.3 552.5 605.3 553.7 605.2C554.9 605.1 556.1 605.1 557.3 605.0C558.5 604.9 559.7 604.8 560.9 604.6C562.1 604.5 563.3 604.3 564.5 604.1C565.7 603.9 567.0 603.7 568.2 603.5C569.4 603.2 570.6 602.9 571.8 602.6C573.0 602.3 574.2 602.0 575.4 601.6C576.6 601.3 577.8 600.9 579.0 600.5C580.2 600.0 581.4 599.6 582.6 599.1C583.8 598.6 585.0 598.1 586.2 597.6C587.4 597.0 588.6 596.5 589.8 595.9C591.0 595.3 592.2 594.7 593.4 594.0C594.6 593.4 595.8 592.7 597.0 592.0C598.2 591.3 599.4 590.6 600.6 589.8C601.8 589.0 603.0 588.2 604.2 587.4C605.4 586.6 606.6 585.7 607.9 584.8C609.1 583.9 610.3 583.0 611.5 582.0C612.7 581.0 613.9 580.0 615.1 578.9C616.3 577.9 617.5 576.7 618.7 575.6C619.9 574.4 621.1 573.2 622.3 571.9C623.5 570.6 624.7 569.3 625.9 567.9C627.1 566.5 628.3 565.1 629.5 563.6C630.7 562.1 631.9 560.6 633.1 559.0C634.3 557.4 635.5 555.8 636.7 554.2C637.9 552.5 639.1 550.8 640.3 549.1C641.5 547.3 642.7 545.5 643.9 543.7C645.1 541.9 646.3 540.1 647.6 538.2C648.8 536.4 650.0 534.5 651.2 532.6C652.4 530.7 653.6 528.8 654.8 526.9C656.0 525.0 657.2 523.0 658.4 521.1C659.6 519.1 660.8 517.2 662.0 515.2C663.2 513.2 664.4 511.3 665.6 509.2C666.8 507.2 668.0 505.2 669.2 503.2C670.4 501.1 671.6 499.0 672.8 496.9C674.0 494.8 675.2 492.7 676.4 490.5C677.6 488.4 678.8 486.2 680.0 484.1C681.2 481.9 682.4 479.7 683.6 477.6C684.8 475.4 686.0 473.3 687.3 471.1C688.5 469.0 689.7 466.9 690.9 464.8C692.1 462.7 693.3 460.7 694.5 458.7C695.7 456.7 696.9 454.7 698.1 452.8C699.3 450.9 700.5 449.0 701.7 447.2C702.9 445.3 704.1 443.6 705.3 441.8C706.5 440.1 707.7 438.4 708.9 436.8C710.1 435.2 711.3 433.6 712.5 432.1C713.7 430.6 714.9 429.1 716.1 427.7C717.3 426.3 718.5 424.9 719.7 423.5C720.9 422.2 722.1 420.9 723.3 419.6C724.5 418.3 725.7 417.0 727.0 415.8C728.2 414.6 729.4 413.4 730.6 412.2C731.8 411.0 733.0 409.9 734.2 408.9C735.4 407.8 736.6 406.8 737.8 406.0C739.0 405.1 740.2 404.3 741.4 403.7C742.6 403.1 743.8 402.5 745.0 402.2C746.2 401.9 747.4 401.7 748.6 401.7C749.8 401.7 751.0 401.8 752.2 402.2C753.4 402.5 754.6 403.0 755.8 403.6C757.0 404.2 758.2 405.0 759.4 405.9C760.6 406.8 761.8 407.8 763.0 409.0C764.2 410.1 765.4 411.4 766.6 412.7C767.9 414.1 769.1 415.5 770.3 417.1C771.5 418.6 772.7 420.3 773.9 422.0C775.1 423.7 776.3 425.6 777.5 427.4C778.7 429.3 779.9 431.3 781.1 433.3C782.3 435.3 783.5 437.3 784.7 439.4C785.9 441.6 787.1 443.7 788.3 445.9C789.5 448.2 790.7 450.4 791.9 452.7C793.1 455.1 794.3 457.4 795.5 459.8C796.7 462.2 797.9 464.7 799.1 467.2C800.3 469.7 801.5 472.2 802.7 474.8C803.9 477.3 805.1 480.0 806.3 482.7C807.6 485.3 808.8 488.1 810.0 490.9C811.2 493.8 812.4 496.7 813.6 499.7C814.8 502.6 816.0 505.7 817.2 508.9C818.4 512.1 819.6 515.4 820.8 518.7C822.0 522.0 823.2 525.5 824.4 528.9C825.6 532.3 826.8 535.8 828.0 539.2C829.2 542.7 830.4 546.1 831.6 549.5C832.8 552.9 834.0 556.3 835.2 559.5C836.4 562.8 837.6 566.0 838.8 569.0C840.0 572.1 841.2 575.1 842.4 577.9C843.6 580.7 844.8 583.4 846.0 585.9C847.2 588.4 848.5 590.8 849.7 592.9C850.9 595.1 852.1 597.0 853.3 598.8C854.5 600.5 855.7 602.0 856.9 603.4C858.1 604.8 859.3 605.9 860.5 606.9C861.7 607.9 862.9 608.8 864.1 609.6C865.3 610.3 866.5 611.0 867.7 611.6C868.9 612.1 870.1 612.6 871.3 613.1C872.5 613.6 873.7 614.0 874.9 614.5C876.1 614.9 877.3 615.2 878.5 615.6C879.7 615.9 880.9 616.2 882.1 616.5C883.3 616.8 884.5 617.0 885.7 617.3C886.9 617.5 888.2 617.7 889.4 617.8C890.6 618.0 891.8 618.1 893.0 618.2C894.2 618.3 895.4 618.4 896.6 618.5C897.8 618.5 899.0 618.6 900.2 618.6C901.4 618.6 902.6 618.6 903.8 618.7C905.0 618.7 906.8 618.7 907.4 618.7" fill="none" stroke="#000" stroke-width="2.64" stroke-linejoin="round"/>
<path d="M546.5 612.1C547.1 612.0 548.9 611.8 550.1 611.7C551.3 611.6 552.5 611.4 553.7 611.3C554.9 611.1 556.1 611.0 557.3 610.8C558.5 610.6 559.7 610.4 560.9 610.1C562.1 609.9 563.3 609.6 564.5 609.3C565.7 608.9 567.0 608.6 568.2 608.2C569.4 607.8 570.6 607.3 571.8 606.9C573.0 606.4 574.2 605.9 575.4 605.4C576.6 604.8 577.8 604.2 579.0 603.7C580.2 603.1 581.4 602.4 582.6 601.8C583.8 601.1 585.0 600.5 586.2 599.8C587.4 599.1 588.6 598.3 589.8 597.6C591.0 596.8 592.2 596.1 593.4 595.3C594.6 594.5 595.8 593.7 597.0 592.8C598.2 592.0 599.4 591.1 600.6 590.2C601.8 589.3 603.0 588.4 604.2 587.5C605.4 586.5 606.6 585.6 607.9 584.5C609.1 583.5 610.3 582.5 611.5 581.3C612.7 580.2 613.9 579.1 615.1 577.8C616.3 576.6 617.5 575.3 618.7 574.0C619.9 572.6 621.1 571.2 622.3 569.7C623.5 568.2 624.7 566.6 625.9 565.1C627.1 563.5 628.3 561.8 629.5 560.1C630.7 558.4 631.9 556.7 633.1 554.9C634.3 553.2 635.5 551.4 636.7 549.6C637.9 547.8 639.1 545.9 640.3 544.1C641.5 542.2 642.7 540.3 643.9 538.4C645.1 536.5 646.3 534.5 647.6 532.5C648.8 530.5 650.0 528.5 651.2 526.4C652.4 524.3 653.6 522.1 654.8 519.9C656.0 517.7 657.2 515.5 658.4 513.2C659.6 510.9 660.8 508.5 662.0 506.2C663.2 503.8 664.4 501.4 665.6 499.0C666.8 496.6 668.0 494.2 669.2 491.8C670.4 489.4 671.6 487.0 672.8 484.6C674.0 482.2 675.2 479.9 676.4 477.5C677.6 475.2 678.8 472.8 680.0 470.5C681.2 468.2 682.4 465.8 683.6 463.5C684.8 461.2 686.0 458.9 687.3 456.6C688.5 454.3 689.7 451.9 690.9 449.6C692.1 447.3 693.3 445.0 694.5 442.7C695.7 440.4 696.9 438.1 698.1 435.8C699.3 433.5 700.5 431.3 701.7 429.1C702.9 427.0 704.1 424.8 705.3 422.8C706.5 420.7 707.7 418.8 708.9 416.9C710.1 415.0 711.3 413.2 712.5 411.5C713.7 409.8 714.9 408.2 716.1 406.6C717.3 405.1 718.5 403.6 719.7 402.2C720.9 400.8 722.1 399.4 723.3 398.1C724.5 396.7 725.7 395.4 727.0 394.2C728.2 393.0 729.4 391.7 730.6 390.6C731.8 389.4 733.0 388.3 734.2 387.2C735.4 386.2 736.6 385.2 737.8 384.4C739.0 383.5 740.2 382.7 741.4 382.1C742.6 381.4 743.8 380.9 745.0 380.5C746.2 380.1 747.4 379.9 748.6 379.9C749.8 379.9 751.0 380.0 752.2 380.3C753.4 380.6 754.6 381.0 755.8 381.6C757.0 382.2 758.2 382.9 759.4 383.7C760.6 384.6 761.8 385.7 763.0 386.9C764.2 388.2 765.4 389.6 766.6 391.2C767.9 392.8 769.1 394.6 770.3 396.5C771.5 398.4 772.7 400.5 773.9 402.6C775.1 404.7 776.3 406.9 777.5 409.2C778.7 411.4 779.9 413.8 781.1 416.1C782.3 418.5 783.5 420.9 784.7 423.3C785.9 425.7 787.1 428.1 788.3 430.6C789.5 433.1 790.7 435.6 791.9 438.2C793.1 440.7 794.3 443.3 795.5 446.0C796.7 448.6 797.9 451.4 799.1 454.1C800.3 456.9 801.5 459.7 802.7 462.6C803.9 465.5 805.1 468.4 806.3 471.5C807.6 474.5 808.8 477.6 810.0 480.8C811.2 483.9 812.4 487.2 813.6 490.5C814.8 493.8 816.0 497.2 817.2 500.7C818.4 504.1 819.6 507.7 820.8 511.3C822.0 514.9 823.2 518.6 824.4 522.3C825.6 525.9 826.8 529.6 828.0 533.3C829.2 537.0 830.4 540.7 831.6 544.3C832.8 547.9 834.0 551.4 835.2 554.9C836.4 558.4 837.6 561.8 838.8 565.1C840.0 568.3 841.2 571.5 842.4 574.5C843.6 577.5 844.8 580.4 846.0 583.1C847.2 585.8 848.5 588.4 849.7 590.7C850.9 593.0 852.1 595.1 853.3 597.0C854.5 598.8 855.7 600.5 856.9 601.9C858.1 603.4 859.3 604.6 860.5 605.7C861.7 606.8 862.9 607.7 864.1 608.5C865.3 609.3 866.5 610.0 867.7 610.6C868.9 611.2 870.1 611.8 871.3 612.3C872.5 612.8 873.7 613.2 874.9 613.7C876.1 614.1 877.3 614.5 878.5 614.9C879.7 615.3 880.9 615.6 882.1 615.9C883.3 616.2 884.5 616.5 885.7 616.8C886.9 617.0 888.2 617.2 889.4 617.4C890.6 617.6 891.8 617.7 893.0 617.9C894.2 618.0 895.4 618.1 896.6 618.2C897.8 618.3 899.0 618.3 900.2 618.4C901.4 618.4 902.6 618.5 903.8 618.5C905.0 618.5 906.8 618.6 907.4 618.6" fill="none" stroke="#838383" stroke-width="2.64" stroke-linejoin="round"/>
<g class="tk" stroke-width="1.12">
<text transform="translate(538.98 622.76) scale(1 0.98)" font-size="15.96" letter-spacing="-0.71" text-anchor="end" x="-0.71">0.00</text>
<text transform="translate(538.98 569.1) scale(1 0.98)" font-size="15.96" letter-spacing="-0.71" text-anchor="end" x="-0.71">0.05</text>
<text transform="translate(538.98 515.44) scale(1 0.98)" font-size="15.96" letter-spacing="-0.71" text-anchor="end" x="-0.71">0.10</text>
<text transform="translate(538.98 461.78) scale(1 0.98)" font-size="15.96" letter-spacing="-0.71" text-anchor="end" x="-0.71">0.15</text>
<text transform="translate(538.98 408.11) scale(1 0.98)" font-size="15.96" letter-spacing="-0.71" text-anchor="end" x="-0.71">0.20</text>
<text transform="translate(538.98 354.45) scale(1 0.98)" font-size="15.96" letter-spacing="-0.71" text-anchor="end" x="-0.71">0.25</text>
<text transform="translate(546.91 638.42) scale(1 0.97)" font-size="16.16" letter-spacing="-1.22" text-anchor="middle" x="-0.61">280</text>
<text transform="translate(583 638.42) scale(1 0.97)" font-size="16.16" letter-spacing="-1.22" text-anchor="middle" x="-0.61">290</text>
<text transform="translate(619.09 638.42) scale(1 0.97)" font-size="16.16" letter-spacing="-1.22" text-anchor="middle" x="-0.61">300</text>
<text transform="translate(655.18 638.42) scale(1 0.97)" font-size="16.16" letter-spacing="-1.22" text-anchor="middle" x="-0.61">310</text>
<text transform="translate(691.27 638.42) scale(1 0.97)" font-size="16.16" letter-spacing="-1.22" text-anchor="middle" x="-0.61">320</text>
<text transform="translate(727.36 638.42) scale(1 0.97)" font-size="16.16" letter-spacing="-1.22" text-anchor="middle" x="-0.61">330</text>
<text transform="translate(763.45 638.42) scale(1 0.97)" font-size="16.16" letter-spacing="-1.22" text-anchor="middle" x="-0.61">340</text>
<text transform="translate(799.54 638.42) scale(1 0.97)" font-size="16.16" letter-spacing="-1.22" text-anchor="middle" x="-0.61">350</text>
<text transform="translate(835.63 638.42) scale(1 0.97)" font-size="16.16" letter-spacing="-1.22" text-anchor="middle" x="-0.61">360</text>
<text transform="translate(871.72 638.42) scale(1 0.97)" font-size="16.16" letter-spacing="-1.22" text-anchor="middle" x="-0.61">370</text>
<text transform="translate(907.81 638.42) scale(1 0.97)" font-size="16.16" letter-spacing="-1.22" text-anchor="middle" x="-0.61">380</text>
</g>
<text class="b" transform="translate(727.97 666.68) scale(1 1.02)" font-size="23.08" letter-spacing="-1.58" text-anchor="middle" x="-0.79">Wavelength / nm</text>
<text class="b" transform="translate(477.88 485.66) rotate(-90)" font-size="23.08" letter-spacing="-1.63" text-anchor="middle" x="-0.81">Abs</text>
<text class="b" transform="translate(558.09 379.05) scale(1 1.03)" font-size="22.77" letter-spacing="-1.78">DIMEB CD</text>
<text class="b" transform="translate(900.59 377.43)" font-size="22.57" letter-spacing="-1.73" text-anchor="end" x="-1.73">(D)</text>
</g>
<g id="pE">
<rect x="320" y="691.4" width="371.4" height="275.85" fill="none" stroke="#000" stroke-width="2.88"/>
<path d="M320 967.25H312.99M320 939.66H315.92M320 912.08H312.99M320 884.5H315.92M320 856.91H312.99M320 829.33H315.92M320 801.74H312.99M320 774.15H315.92M320 746.57H312.99M320 718.99H315.92M320 691.4H312.99M320 967.25V974.26M338.57 967.25V971.33M357.14 967.25V974.26M375.71 967.25V971.33M394.28 967.25V974.26M412.85 967.25V971.33M431.42 967.25V974.26M449.99 967.25V971.33M468.56 967.25V974.26M487.13 967.25V971.33M505.7 967.25V974.26M524.27 967.25V971.33M542.84 967.25V974.26M561.41 967.25V971.33M579.98 967.25V974.26M598.55 967.25V971.33M617.12 967.25V974.26M635.69 967.25V971.33M654.26 967.25V974.26M672.83 967.25V971.33M691.4 967.25V974.26" fill="none" stroke="#000" stroke-width="2.72"/>
<path d="M320.0 951.1C320.6 951.1 322.5 951.0 323.7 951.0C325.0 950.9 326.2 950.8 327.4 950.7C328.7 950.7 329.9 950.6 331.1 950.5C332.4 950.4 333.6 950.2 334.9 950.1C336.1 950.0 337.3 949.8 338.6 949.6C339.8 949.4 341.0 949.2 342.3 948.9C343.5 948.7 344.8 948.4 346.0 948.1C347.2 947.8 348.5 947.4 349.7 947.0C350.9 946.7 352.2 946.2 353.4 945.8C354.7 945.3 355.9 944.8 357.1 944.3C358.4 943.8 359.6 943.2 360.9 942.6C362.1 941.9 363.3 941.3 364.6 940.6C365.8 939.9 367.0 939.2 368.3 938.4C369.5 937.7 370.8 936.9 372.0 936.0C373.2 935.2 374.5 934.4 375.7 933.5C376.9 932.6 378.2 931.7 379.4 930.8C380.7 929.8 381.9 928.9 383.1 927.9C384.4 926.9 385.6 925.8 386.9 924.7C388.1 923.7 389.3 922.5 390.6 921.4C391.8 920.2 393.0 919.0 394.3 917.7C395.5 916.4 396.8 915.1 398.0 913.7C399.2 912.4 400.5 911.0 401.7 909.5C402.9 908.0 404.2 906.5 405.4 904.9C406.7 903.4 407.9 901.8 409.1 900.1C410.4 898.4 411.6 896.7 412.9 895.0C414.1 893.2 415.3 891.4 416.6 889.6C417.8 887.8 419.0 885.9 420.3 884.0C421.5 882.1 422.8 880.1 424.0 878.2C425.2 876.2 426.5 874.2 427.7 872.2C428.9 870.2 430.2 868.2 431.4 866.2C432.7 864.1 433.9 862.1 435.1 860.1C436.4 858.0 437.6 855.9 438.8 853.8C440.1 851.8 441.3 849.7 442.6 847.5C443.8 845.4 445.0 843.3 446.3 841.1C447.5 838.9 448.8 836.7 450.0 834.5C451.2 832.3 452.5 830.0 453.7 827.8C454.9 825.5 456.2 823.2 457.4 821.0C458.7 818.7 459.9 816.4 461.1 814.2C462.4 811.9 463.6 809.7 464.8 807.5C466.1 805.3 467.3 803.1 468.6 801.0C469.8 798.8 471.0 796.8 472.3 794.7C473.5 792.7 474.7 790.7 476.0 788.8C477.2 786.8 478.5 784.9 479.7 783.1C480.9 781.2 482.2 779.4 483.4 777.7C484.7 775.9 485.9 774.3 487.1 772.6C488.4 771.0 489.6 769.4 490.8 767.8C492.1 766.3 493.3 764.8 494.6 763.4C495.8 761.9 497.0 760.6 498.3 759.2C499.5 757.9 500.7 756.6 502.0 755.4C503.2 754.2 504.5 753.1 505.7 752.0C506.9 750.9 508.2 749.8 509.4 748.9C510.7 747.9 511.9 747.0 513.1 746.1C514.4 745.3 515.6 744.5 516.8 743.8C518.1 743.1 519.3 742.4 520.6 741.9C521.8 741.4 523.0 741.0 524.3 740.7C525.5 740.4 526.7 740.3 528.0 740.3C529.2 740.4 530.5 740.6 531.7 740.9C532.9 741.2 534.2 741.6 535.4 742.2C536.7 742.7 537.9 743.3 539.1 744.0C540.4 744.8 541.6 745.6 542.8 746.6C544.1 747.6 545.3 748.7 546.6 749.9C547.8 751.2 549.0 752.6 550.3 754.1C551.5 755.6 552.7 757.2 554.0 758.9C555.2 760.6 556.5 762.5 557.7 764.4C558.9 766.3 560.2 768.3 561.4 770.4C562.6 772.5 563.9 774.7 565.1 776.9C566.4 779.2 567.6 781.5 568.8 783.8C570.1 786.2 571.3 788.6 572.6 791.1C573.8 793.5 575.0 796.0 576.3 798.5C577.5 801.1 578.7 803.6 580.0 806.2C581.2 808.7 582.5 811.3 583.7 813.9C584.9 816.5 586.2 819.1 587.4 821.8C588.6 824.5 589.9 827.3 591.1 830.1C592.4 833.0 593.6 836.0 594.8 839.0C596.1 842.1 597.3 845.3 598.5 848.6C599.8 852.0 601.0 855.5 602.3 859.0C603.5 862.6 604.7 866.3 606.0 870.0C607.2 873.7 608.5 877.4 609.7 881.1C610.9 884.8 612.2 888.5 613.4 892.1C614.6 895.7 615.9 899.3 617.1 902.7C618.4 906.1 619.6 909.4 620.8 912.5C622.1 915.6 623.3 918.6 624.5 921.5C625.8 924.3 627.0 927.0 628.3 929.5C629.5 932.1 630.7 934.5 632.0 936.7C633.2 938.9 634.5 941.0 635.7 942.9C636.9 944.8 638.2 946.5 639.4 948.1C640.6 949.6 641.9 951.0 643.1 952.3C644.4 953.6 645.6 954.8 646.8 955.8C648.1 956.9 649.3 957.8 650.5 958.6C651.8 959.5 653.0 960.2 654.3 960.9C655.5 961.5 656.7 962.1 658.0 962.6C659.2 963.1 660.4 963.5 661.7 963.9C662.9 964.3 664.2 964.6 665.4 964.9C666.6 965.2 667.9 965.4 669.1 965.6C670.4 965.9 671.6 966.0 672.8 966.1C674.1 966.3 675.3 966.4 676.5 966.5C677.8 966.6 679.0 966.6 680.3 966.7C681.5 966.8 682.7 966.8 684.0 966.8C685.2 966.9 686.4 966.9 687.7 966.9C688.9 966.9 690.8 966.9 691.4 966.9" fill="none" stroke="#000" stroke-width="2.72" stroke-linejoin="round"/>
<path d="M320.0 952.9C320.6 952.9 322.5 952.8 323.7 952.7C325.0 952.7 326.2 952.6 327.4 952.6C328.7 952.5 329.9 952.4 331.1 952.3C332.4 952.2 333.6 952.1 334.9 952.0C336.1 951.8 337.3 951.7 338.6 951.5C339.8 951.3 341.0 951.1 342.3 950.8C343.5 950.6 344.8 950.3 346.0 950.0C347.2 949.7 348.5 949.4 349.7 949.0C350.9 948.6 352.2 948.2 353.4 947.8C354.7 947.3 355.9 946.8 357.1 946.3C358.4 945.8 359.6 945.2 360.9 944.6C362.1 944.0 363.3 943.3 364.6 942.6C365.8 942.0 367.0 941.2 368.3 940.5C369.5 939.7 370.8 939.0 372.0 938.2C373.2 937.4 374.5 936.5 375.7 935.7C376.9 934.8 378.2 934.0 379.4 933.1C380.7 932.2 381.9 931.2 383.1 930.3C384.4 929.3 385.6 928.3 386.9 927.3C388.1 926.2 389.3 925.2 390.6 924.0C391.8 922.9 393.0 921.7 394.3 920.5C395.5 919.2 396.8 917.9 398.0 916.6C399.2 915.2 400.5 913.8 401.7 912.4C402.9 911.0 404.2 909.5 405.4 907.9C406.7 906.4 407.9 904.8 409.1 903.2C410.4 901.6 411.6 900.0 412.9 898.3C414.1 896.6 415.3 894.9 416.6 893.2C417.8 891.4 419.0 889.7 420.3 887.9C421.5 886.1 422.8 884.3 424.0 882.4C425.2 880.6 426.5 878.7 427.7 876.8C428.9 875.0 430.2 873.1 431.4 871.1C432.7 869.2 433.9 867.3 435.1 865.3C436.4 863.4 437.6 861.4 438.8 859.5C440.1 857.5 441.3 855.5 442.6 853.5C443.8 851.4 445.0 849.4 446.3 847.3C447.5 845.3 448.8 843.2 450.0 841.1C451.2 839.0 452.5 836.9 453.7 834.8C454.9 832.7 456.2 830.6 457.4 828.4C458.7 826.3 459.9 824.2 461.1 822.1C462.4 820.0 463.6 817.9 464.8 815.8C466.1 813.7 467.3 811.7 468.6 809.7C469.8 807.7 471.0 805.7 472.3 803.8C473.5 801.8 474.7 799.9 476.0 798.1C477.2 796.2 478.5 794.4 479.7 792.6C480.9 790.9 482.2 789.1 483.4 787.4C484.7 785.8 485.9 784.1 487.1 782.5C488.4 781.0 489.6 779.4 490.8 777.9C492.1 776.4 493.3 775.0 494.6 773.6C495.8 772.2 497.0 770.9 498.3 769.6C499.5 768.3 500.7 767.1 502.0 765.9C503.2 764.7 504.5 763.5 505.7 762.5C506.9 761.4 508.2 760.3 509.4 759.4C510.7 758.4 511.9 757.5 513.1 756.6C514.4 755.8 515.6 755.0 516.8 754.3C518.1 753.6 519.3 752.9 520.6 752.4C521.8 751.9 523.0 751.5 524.3 751.2C525.5 750.9 526.7 750.8 528.0 750.8C529.2 750.8 530.5 750.9 531.7 751.1C532.9 751.4 534.2 751.7 535.4 752.1C536.7 752.5 537.9 752.9 539.1 753.5C540.4 754.0 541.6 754.6 542.8 755.4C544.1 756.2 545.3 757.1 546.6 758.1C547.8 759.1 549.0 760.2 550.3 761.5C551.5 762.7 552.7 764.1 554.0 765.6C555.2 767.0 556.5 768.6 557.7 770.2C558.9 771.8 560.2 773.6 561.4 775.4C562.6 777.2 563.9 779.0 565.1 781.0C566.4 782.9 567.6 784.9 568.8 787.0C570.1 789.1 571.3 791.2 572.6 793.4C573.8 795.6 575.0 797.9 576.3 800.2C577.5 802.5 578.7 804.9 580.0 807.3C581.2 809.7 582.5 812.1 583.7 814.6C584.9 817.1 586.2 819.7 587.4 822.4C588.6 825.1 589.9 827.8 591.1 830.7C592.4 833.5 593.6 836.5 594.8 839.6C596.1 842.6 597.3 845.8 598.5 849.2C599.8 852.5 601.0 856.0 602.3 859.6C603.5 863.2 604.7 866.9 606.0 870.5C607.2 874.2 608.5 878.0 609.7 881.7C610.9 885.4 612.2 889.1 613.4 892.7C614.6 896.3 615.9 899.9 617.1 903.3C618.4 906.6 619.6 909.9 620.8 913.1C622.1 916.2 623.3 919.2 624.5 922.0C625.8 924.9 627.0 927.6 628.3 930.1C629.5 932.7 630.7 935.0 632.0 937.3C633.2 939.5 634.5 941.5 635.7 943.4C636.9 945.3 638.2 947.0 639.4 948.6C640.6 950.1 641.9 951.5 643.1 952.8C644.4 954.1 645.6 955.2 646.8 956.2C648.1 957.2 649.3 958.1 650.5 958.9C651.8 959.7 653.0 960.4 654.3 961.1C655.5 961.7 656.7 962.2 658.0 962.7C659.2 963.2 660.4 963.6 661.7 964.0C662.9 964.4 664.2 964.6 665.4 964.9C666.6 965.2 667.9 965.4 669.1 965.6C670.4 965.8 671.6 965.9 672.8 966.0C674.1 966.2 675.3 966.3 676.5 966.4C677.8 966.5 679.0 966.5 680.3 966.6C681.5 966.7 682.7 966.7 684.0 966.7C685.2 966.8 686.4 966.8 687.7 966.8C688.9 966.9 690.8 966.9 691.4 966.9" fill="none" stroke="#838383" stroke-width="2.72" stroke-linejoin="round"/>
<g class="tk" stroke-width="1.15">
<text transform="translate(312.26 971.23) scale(1 0.98)" font-size="16.43" letter-spacing="-0.73" text-anchor="end" x="-0.73">0.00</text>
<text transform="translate(312.26 915.89) scale(1 0.98)" font-size="16.43" letter-spacing="-0.73" text-anchor="end" x="-0.73">0.05</text>
<text transform="translate(312.26 860.55) scale(1 0.98)" font-size="16.43" letter-spacing="-0.73" text-anchor="end" x="-0.73">0.10</text>
<text transform="translate(312.26 805.21) scale(1 0.98)" font-size="16.43" letter-spacing="-0.73" text-anchor="end" x="-0.73">0.15</text>
<text transform="translate(312.26 749.88) scale(1 0.98)" font-size="16.43" letter-spacing="-0.73" text-anchor="end" x="-0.73">0.20</text>
<text transform="translate(312.26 694.54) scale(1 0.98)" font-size="16.43" letter-spacing="-0.73" text-anchor="end" x="-0.73">0.25</text>
<text transform="translate(320.42 987.34) scale(1 0.97)" font-size="16.63" letter-spacing="-1.26" text-anchor="middle" x="-0.63">280</text>
<text transform="translate(357.56 987.34) scale(1 0.97)" font-size="16.63" letter-spacing="-1.26" text-anchor="middle" x="-0.63">290</text>
<text transform="translate(394.7 987.34) scale(1 0.97)" font-size="16.63" letter-spacing="-1.26" text-anchor="middle" x="-0.63">300</text>
<text transform="translate(431.84 987.34) scale(1 0.97)" font-size="16.63" letter-spacing="-1.26" text-anchor="middle" x="-0.63">310</text>
<text transform="translate(468.98 987.34) scale(1 0.97)" font-size="16.63" letter-spacing="-1.26" text-anchor="middle" x="-0.63">320</text>
<text transform="translate(506.12 987.34) scale(1 0.97)" font-size="16.63" letter-spacing="-1.26" text-anchor="middle" x="-0.63">330</text>
<text transform="translate(543.26 987.34) scale(1 0.97)" font-size="16.63" letter-spacing="-1.26" text-anchor="middle" x="-0.63">340</text>
<text transform="translate(580.4 987.34) scale(1 0.97)" font-size="16.63" letter-spacing="-1.26" text-anchor="middle" x="-0.63">350</text>
<text transform="translate(617.54 987.34) scale(1 0.97)" font-size="16.63" letter-spacing="-1.26" text-anchor="middle" x="-0.63">360</text>
<text transform="translate(654.68 987.34) scale(1 0.97)" font-size="16.63" letter-spacing="-1.26" text-anchor="middle" x="-0.63">370</text>
<text transform="translate(691.82 987.34) scale(1 0.97)" font-size="16.63" letter-spacing="-1.26" text-anchor="middle" x="-0.63">380</text>
</g>
<text class="b" transform="translate(506.75 1019.98) scale(1 1.02)" font-size="23.75" letter-spacing="-1.62" text-anchor="middle" x="-0.81">Wavelength / nm</text>
<text class="b" transform="translate(250.11 831.21) rotate(-90)" font-size="23.75" letter-spacing="-1.67" text-anchor="middle" x="-0.84">Abs</text>
<text class="b" transform="translate(326.28 718.08) scale(1 1.03)" font-size="23.43" letter-spacing="-1.83">TRIMEB CD</text>
<text class="b" transform="translate(686.9 716.72)" font-size="23.23" letter-spacing="-1.78" text-anchor="end" x="-1.78">(E)</text>
</g>
</svg>
</body>
</html>
